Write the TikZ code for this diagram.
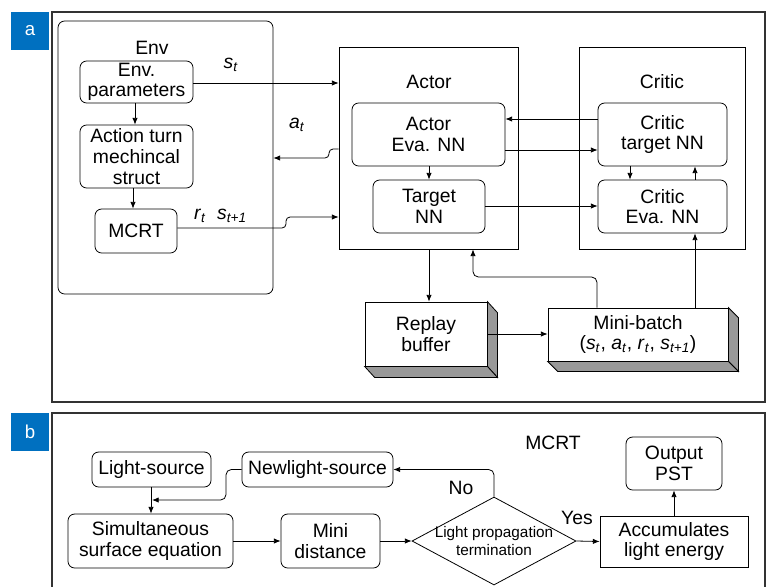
\documentclass[tikz,border=0pt]{standalone}
\usepackage{fontspec}
\setmainfont{Liberation Sans}
\usetikzlibrary{arrows.meta,shapes.geometric,calc}
\definecolor{tagblue}{RGB}{0,112,192}
\newcommand\vsub[2]{\textit{#1}\textsubscript{\textit{#2}}}
\newcommand\pbox[7]{\node[#2, minimum width={(#5-#3)*0.75pt}, minimum height={(#6-#4)*0.75pt}] (#1) at ({(#3+#5)/2},{(#4+#6)/2}) {#7};}
\begin{document}
\begin{tikzpicture}[x=0.75pt,y=-0.75pt,
  every node/.style={font=\fontsize{14.5}{15.5}\selectfont, inner sep=0pt, align=center},
  rbox/.style={draw, rounded corners=5pt, line width=0.6pt, fill=white},
  sbox/.style={draw, line width=0.6pt, fill=white},
  side/.style={draw, line width=0.6pt, fill=black!40},
  arr/.style={-{Latex[length=5pt,width=4pt]}, line width=0.6pt},
  frame/.style={draw=black!80, line width=1pt},
  tag/.style={fill=tagblue, text=white, font=\fontsize{14}{14}\selectfont},
  small/.style={font=\fontsize{11.5}{13}\selectfont},
]
\useasboundingbox (0,0) rectangle (767,586);

% panel frames and tags
\draw[frame] (52,12) rectangle (765,402);
\draw[frame] (52,590) -- (52,413) -- (765,413) -- (765,590);
\pbox{taga}{tag}{11}{12}{49}{50}{a}
\pbox{tagb}{tag}{11}{413}{49}{451}{b}

% ---------- panel a ----------
\pbox{env}{rbox}{58}{21}{273}{294}{}
\node (envt) at (152,48) {Env};
\pbox{envp}{rbox}{80}{61}{193}{103}{Env.\\parameters}
\pbox{act}{rbox}{80}{125}{193}{188}{Action turn\\mechincal\\struct}
\pbox{mcrt}{rbox}{95}{209}{177}{253}{MCRT}

\pbox{actor}{sbox}{339}{47}{518}{249}{}
\node (actort) at (429,82) {Actor};
\pbox{ae}{rbox}{352}{103}{505}{166}{Actor\\Eva. NN}
\pbox{tn}{rbox}{373}{180}{485}{233}{Target\\NN}

\pbox{critic}{sbox}{579}{47}{745}{249}{}
\node (critict) at (662,82) {Critic};
\pbox{ct}{rbox}{598}{103}{727}{166}{Critic\\target NN}
\pbox{ce}{rbox}{598}{180}{727}{233}{Critic\\Eva. NN}

% 3D boxes
\pbox{rb}{sbox}{365}{302}{487}{366}{Replay\\buffer}
\filldraw[side] (rb.north east) -- ++(10,11) -- ($(rb.south east)+(10,11)$) -- (rb.south east) -- cycle;
\filldraw[side] (rb.south west) -- (rb.south east) -- ++(10,11) -- ($(rb.south west)+(10,11)$) -- cycle;
\pbox{mb}{sbox}{548}{308}{728}{361}{Mini-batch\\(\vsub{s}{t}, \vsub{a}{t}, \vsub{r}{t}, \vsub{s}{t+1})}
\filldraw[side] (mb.north east) -- ++(10,10) -- ($(mb.south east)+(10,10)$) -- (mb.south east) -- cycle;
\filldraw[side] (mb.south west) -- (mb.south east) -- ++(10,10) -- ($(mb.south west)+(10,10)$) -- cycle;

% labels
\node (lst) at (231,65) {\vsub{s}{t}};
\node (lat) at (297,125) {\vsub{a}{t}};
\node (lrt) at (200,216) {\vsub{r}{t}};
\node (lst1) at (232,216) {\vsub{s}{t+1}};

% arrows panel a
\draw[arr] (envp.east |- 0,83) -- (actor.west |- 0,83);
\draw[arr, rounded corners=3pt] (actor.west |- 0,149) -- (329,149) -- (329,158) -- (env.east |- 0,158);
\draw[arr, rounded corners=3pt] (mcrt.east |- 0,228) -- (286,228) -- (286,217) -- (actor.west |- 0,217);
\draw[arr] (135,0 |- envp.south) -- (135,0 |- act.north);
\draw[arr] (133,0 |- act.south) -- (133,0 |- mcrt.north);
\draw[arr] (ct.west |- 0,119) -- (ae.east |- 0,119);
\draw[arr] (ae.east |- 0,150) -- (ct.west |- 0,150);
\draw[arr] (tn.east |- 0,206) -- (ce.west |- 0,206);
\draw[arr] (429,0 |- ae.south) -- (429,0 |- tn.north);
\draw[arr] (630,0 |- ct.south) -- (630,0 |- ce.north);
\draw[arr] (695,0 |- ce.north) -- (695,0 |- ct.south);
\draw[arr] (695,0 |- mb.north) -- (695,0 |- ce.south);
\draw[arr, rounded corners=4pt] (597,0 |- mb.north) -- (597,277) -- (473,277) -- (473,0 |- actor.south);
\draw[arr] (429,0 |- actor.south) -- (429,0 |- rb.north);
\draw[arr] (rb.east |- 0,334) -- (mb.west |- 0,334);

% ---------- panel b ----------
\node (mcrtt) at (553,443) {MCRT};
\pbox{ls}{rbox}{92}{452}{211}{487}{Light-source}
\pbox{nls}{rbox}{242}{452}{393}{487}{Newlight-source}
\pbox{sse}{rbox}{68}{514}{233}{568}{Simultaneous\\surface equation}
\pbox{md}{rbox}{281}{514}{380}{568}{Mini\\distance}
\node[draw, diamond, line width=0.6pt, minimum width=123pt, minimum height=66pt,
  label={[small, align=center]center:{Light propagation\\termination}}] (dia) at (494,541) {};
\pbox{acc}{sbox}{600}{516}{748}{567}{Accumulates\\light energy}
\pbox{out}{rbox}{626}{437}{722}{490}{Output\\PST}
\node (lno) at (461,488) {No};
\node (lyes) at (577,518) {Yes};

\draw[arr] (151,0 |- ls.south) -- (151,0 |- sse.north);
\draw[arr, rounded corners=4pt] (nls.west) -- (226,0 |- nls.west) -- (226,500) -- (152,500);
\draw[arr] (sse.east) -- (md.west);
\draw[arr] (md.east) -- (dia.west);
\draw[arr, rounded corners=4pt] (dia.north) -- (dia.north |- nls.east) -- (nls.east);
\draw[arr] (dia.east) -- (acc.west);
\draw[arr] (acc.north) -- (out.south);
\end{tikzpicture}
\end{document}
